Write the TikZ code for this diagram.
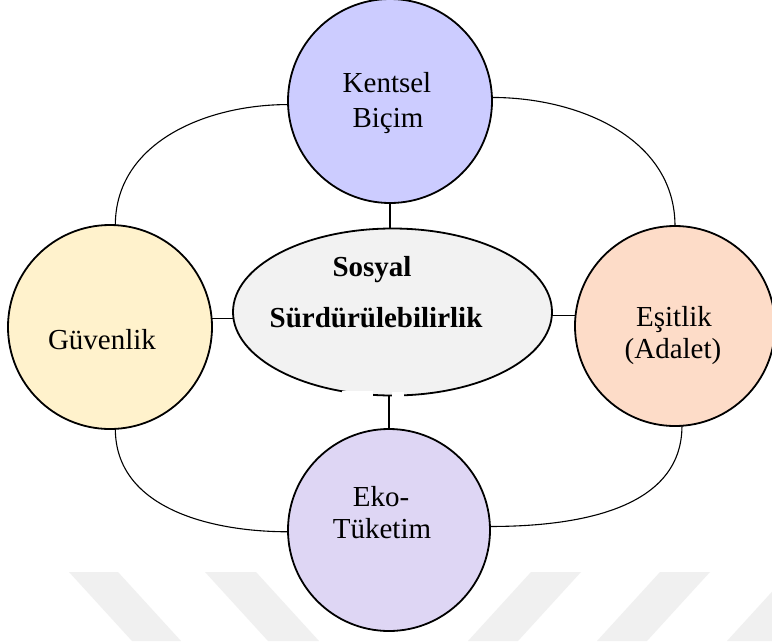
\documentclass[tikz,border=0pt]{standalone}
\usepackage{fontspec}
\setmainfont{Liberation Serif}
\usetikzlibrary{shapes.geometric}

\definecolor{kbfill}{HTML}{CCCCFF}
\definecolor{gvfill}{HTML}{FFF2CC}
\definecolor{esfill}{HTML}{FDDCC8}
\definecolor{etfill}{HTML}{DED6F4}
\definecolor{elfill}{HTML}{F2F2F2}
\definecolor{markgray}{HTML}{F0F0F0}

\tikzset{
  ring/.style={circle, draw=black, line width=1.8pt, inner sep=0pt, outer sep=0pt},
  hub/.style={ellipse, draw=black, line width=1.8pt, fill=elfill, inner sep=0pt, outer sep=0pt,
              minimum width=319pt, minimum height=167pt},
  txt/.style={anchor=base, inner sep=0pt, font=\fontsize{29}{34}\selectfont},
  boldtxt/.style={txt, font=\fontsize{29}{34}\selectfont\bfseries},
  link/.style={draw=black, line width=1.1pt},
  band/.style={fill=markgray, draw=none}
}

\begin{document}
\begin{tikzpicture}[x=1pt, y=-1pt]
  \useasboundingbox (0,0) rectangle (772,641);
  \clip (0,0) rectangle (772,641);
  \fill[white] (0,0) rectangle (772,641);

  % faint chevron bands along the bottom
  \fill[band] (69,572) -- (118,572) -- (181,641) -- (132,641) -- cycle;
  \fill[band] (205,572) -- (256,572) -- (319,641) -- (268,641) -- cycle;
  \fill[band] (531,572) -- (581,572) -- (518,641) -- (468,641) -- cycle;
  \fill[band] (660,572) -- (710,572) -- (647,641) -- (597,641) -- cycle;
  \fill[band] (790,572) -- (840,572) -- (777,641) -- (727,641) -- cycle;

  % centre ellipse and the four surrounding circles
  \node[hub] (el) at (392.5,312) {};
  \node[ring, fill=kbfill, minimum size=204pt] (kb) at (390,101) {};
  \node[ring, fill=gvfill, minimum size=204pt] (gv) at (110,327) {};
  \node[ring, fill=esfill, minimum size=200pt] (es) at (675,326) {};
  \node[ring, fill=etfill, minimum size=202pt] (et) at (389,530) {};

  % small gaps in the lower edge of the ellipse
  \fill[white] (342,391) rectangle (373,399);
  \fill[white] (392,392) rectangle (404,399);

  % short spokes
  \draw[link] (kb.south) -- (kb.south |- el.north);
  \draw[link] (gv.5.6) -- (gv.5.6 -| el.west);
  \draw[link] (es.174.8) -- (es.174.8 -| el.east);
  \draw[link] (et.north |- el.south) -- (et.north);

  % outer ring of arcs
  \draw[link] (kb.182) to[out=180, in=90] (gv.87);
  \draw[link] (kb.2) to[out=0, in=90] (es.90);
  \draw[link] (gv.273) to[out=-90, in=180] (et.181);
  \draw[link] (es.274) to[out=-90, in=0] (et.2);

  % labels
  \node[txt] (kb1) at (387,92) {Kentsel};
  \node[txt] (kb2) at (388,127) {Biçim};
  \node[txt] (gv1) at (102,349) {Güvenlik};
  \node[txt] (es1) at (674,326) {Eşitlik};
  \node[txt] (es2) at (673,358) {(Adalet)};
  \node[txt] (et1) at (381,506) {Eko-};
  \node[txt] (et2) at (382,538) {Tüketim};
  \node[boldtxt] (el1) at (372,276) {Sosyal};
  \node[boldtxt] (el2) at (376,327) {Sürdürülebilirlik};
\end{tikzpicture}
\end{document}
